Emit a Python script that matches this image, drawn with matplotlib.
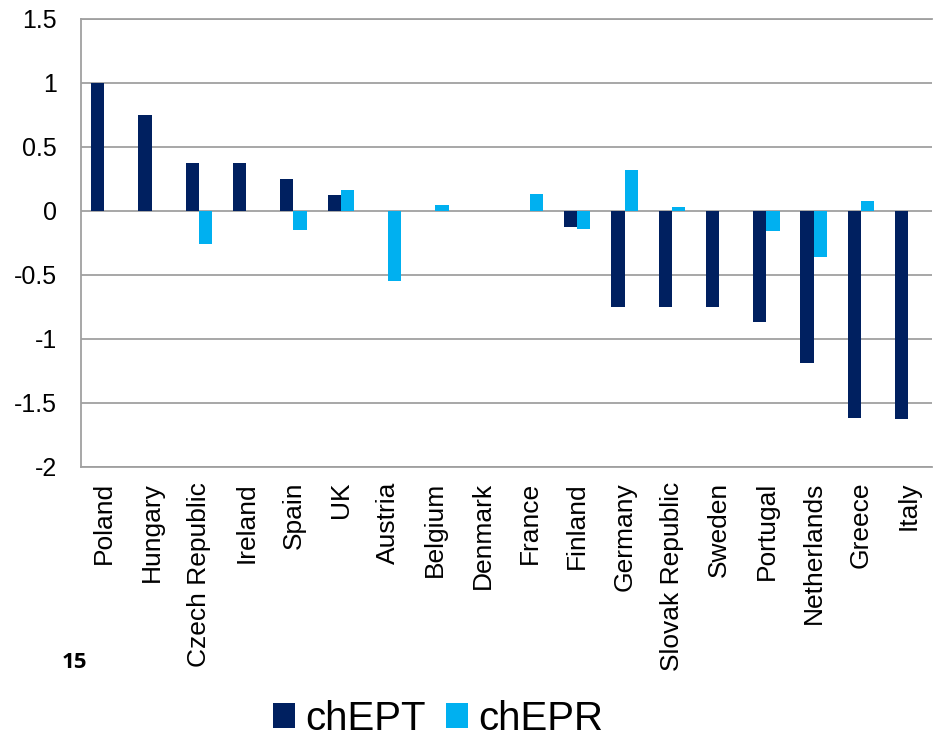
import matplotlib
matplotlib.use("Agg")
import matplotlib.pyplot as plt
from matplotlib.patches import Patch
import numpy as np

## dane
countries = ["Poland", "Hungary", "Czech Republic", "Ireland", "Spain", "UK",
             "Austria", "Belgium", "Denmark", "France", "Finland", "Germany",
             "Slovak Republic", "Sweden", "Portugal", "Netherlands", "Greece", "Italy"]
chEPT = [1.0, 0.75, 0.375, 0.375, 0.25, 0.125,
         0.0, 0.0, 0.0, 0.0, -0.13, -0.75,
         -0.75, -0.75, -0.87, -1.19, -1.62, -1.63]
chEPR = [0.0, 0.0, -0.26, 0.0, -0.15, 0.165,
         -0.55, 0.047, 0.0, 0.127, -0.143, 0.315,
         0.026, 0.0, -0.16, -0.36, 0.078, 0.0]
yticks = [-2, -1.5, -1, -0.5, 0, 0.5, 1, 1.5]
ytick_labels = ["-2", "-1.5", "-1", "-0.5", "0", "0.5", "1", "1.5"]

dark = "#002060"
light = "#00B0F0"
grid_col = "#a0a0a0"

plt.rcParams['font.family'] = ['Liberation Sans', 'DejaVu Sans']

fig = plt.figure(figsize=(9.39, 7.40), dpi=100)
ax = fig.add_axes([0.0859, 0.3693, 0.9066, 0.6054])

x = np.arange(len(countries))
w = 0.28
ax.bar(x - w / 2, chEPT, width=w, color=dark, zorder=3)
ax.bar(x + w / 2, chEPR, width=w, color=light, zorder=3)

# osie
ax.set_xlim(-0.5, len(countries) - 0.5)
ax.set_ylim(-2, 1.5)
ax.set_yticks(yticks)
ax.set_yticklabels(ytick_labels, fontsize=18)
ax.set_xticks(x)
ax.set_xticklabels(countries, rotation=90, fontsize=19)
ax.tick_params(axis='both', length=0)
ax.tick_params(axis='x', pad=11)
ax.tick_params(axis='y', pad=17)

ax.yaxis.grid(True, color=grid_col, linewidth=1.3, zorder=0)
ax.set_axisbelow(True)
for s in ['left', 'top', 'bottom']:
    ax.spines[s].set_color(grid_col)
    ax.spines[s].set_linewidth(1.3)
ax.spines['right'].set_visible(False)

# numer strony
fig.text(62 / 939, 1 - 668 / 740, "15", fontsize=16, fontweight='bold',
         family=['Open Sans', 'DejaVu Sans'], ha='left', va='baseline')

# legenda
handles = [Patch(facecolor=dark, label="chEPT"), Patch(facecolor=light, label="chEPR")]
fig.legend(handles=handles, loc='lower center', bbox_to_anchor=(438 / 939, -0.035),
           ncol=2, frameon=False, fontsize=29, handlelength=0.55, handleheight=0.55,
           handletextpad=0.25, columnspacing=0.5, borderpad=0.2)

fig.savefig("out.png", dpi=100)
